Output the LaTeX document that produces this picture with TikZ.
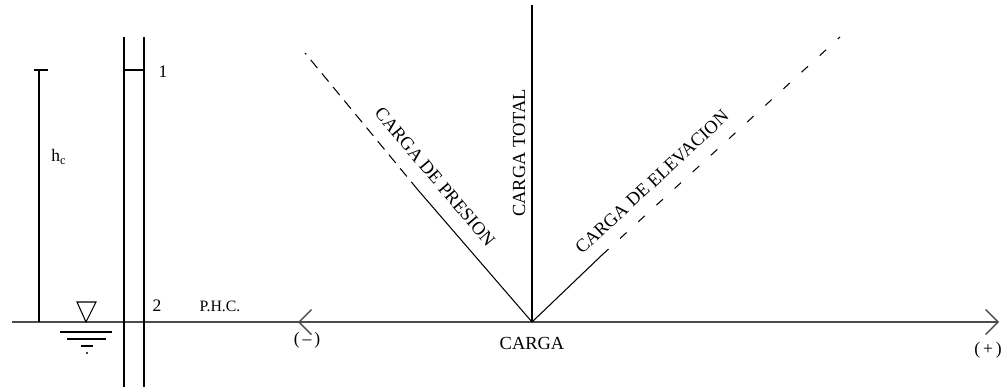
\documentclass[tikz,border=0pt]{standalone}
\usepackage{fontspec}
\setmainfont{Liberation Serif}
\usetikzlibrary{arrows.meta,calc}

\begin{document}
\begin{tikzpicture}[
    x=0.02cm, y=-0.02cm,
    axis/.style={draw=black!70, line width=0.8pt},
    thinline/.style={line width=0.6pt},
    presdash/.style={line width=0.6pt, dash pattern=on 6pt off 4pt},
    elevdash/.style={line width=0.6pt, dash pattern=on 5pt off 9pt},
    label/.style={font=\fontsize{10}{12}\selectfont, inner sep=1pt},
    slanted/.style={font=\fontsize{10.5}{12}\selectfont, inner sep=1pt}
]
\useasboundingbox (0,0) rectangle (1006,389);

% Key points
\coordinate (axl) at (12,322);
\coordinate (axr) at (999,322);
\coordinate (carga) at (532,322);
\coordinate (neg) at (298,322);
\coordinate (tot) at (532,5);
\coordinate (presmid) at (418,190);
\coordinate (prestop) at (305,53);
\coordinate (elevmid) at (602,255);
\coordinate (elevtop) at (840,37);

% Horizontal axis with its two directions
\draw[axis, -{Straight Barb[length=2.5mm]}] (axl) -- (axr);
\draw[axis, -{Straight Barb[length=2.5mm]}] (carga) -- (neg);

% Piezometer tube and points 1, 2
\draw[thinline] (124,37) -- (124,387);
\draw[thinline] (144,37) -- (144,387);
\draw[thinline] (124,70) -- (144,70);
\node[label] (one) at (163,72) {1};
\node[label] (two) at (157,306) {2};
\node[label, font=\fontsize{9}{11}\selectfont] (phc) at (220,306) {P.H.C.};

% Height h_c
\draw[thinline] (39,70) -- (39,322);
\draw[thinline] (34,70) -- (48,70);
\node[label] (hc) at (59,157) {h$_\mathrm{c}$};

% Water level symbol
\draw[thinline] (77,302) -- (96,302) -- (86,322) -- cycle;
\draw[thinline] (60,332) -- (112,332);
\draw[thinline] (67,339) -- (106,339);
\draw[thinline] (81,346) -- (93,346);
\fill (87,353) circle (0.6pt);

% Head lines
\draw[thinline] (carga) -- (tot);
\draw[thinline] (carga) -- (presmid);
\draw[presdash] (presmid) -- (prestop);
\draw[thinline] (carga) -- (elevmid);
\draw[elevdash] (elevmid) -- (elevtop);

% Labels
\node[slanted, rotate=90] (totlbl) at (519,153) {CARGA TOTAL};
\node[slanted, rotate=-49.8] (preslbl) at (435,177) {CARGA DE PRESION};
\node[slanted, rotate=42.8] (elevlbl) at (652,182) {CARGA DE ELEVACION};
\node[slanted] (cargalbl) at (532,343) {CARGA};
\node[label] (neglbl) at (307,340) {(\,--\,)};
\node[label] (poslbl) at (988,350) {(\,+\,)};

\end{tikzpicture}
\end{document}
